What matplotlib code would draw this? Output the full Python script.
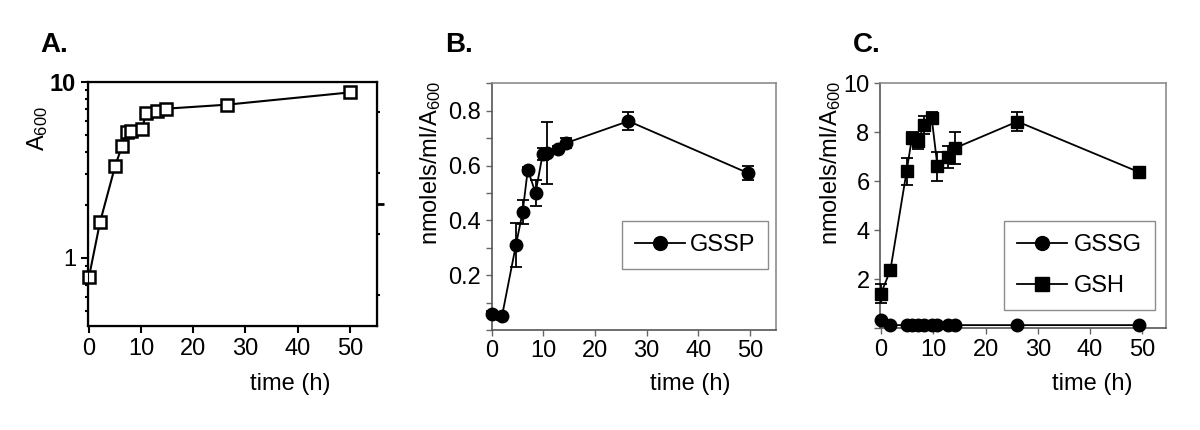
import numpy as np
import matplotlib.pyplot as plt
from matplotlib.lines import Line2D
from matplotlib.ticker import MultipleLocator, FixedLocator, NullFormatter

plt.rcParams['font.family'] = ['Liberation Sans', 'DejaVu Sans']
plt.rcParams['mathtext.fontset'] = 'custom'
plt.rcParams['mathtext.rm'] = 'Liberation Sans'
plt.rcParams['mathtext.it'] = 'Liberation Sans'

# Panel A: growth curve
timeA = [0, 2.1, 5.0, 6.3, 7.2, 8.0, 10.1, 11.0, 13.0, 14.7, 26.4, 50.1]
a600 = [0.78, 1.59, 3.32, 4.30, 5.23, 5.28, 5.39, 6.65, 6.87, 7.05, 7.43, 8.73]

# Panel B: GSSP
timeB = [0, 2.0, 4.7, 6.0, 7.0, 8.5, 9.9, 10.7, 12.8, 14.4, 26.5, 49.7]
gssp = [0.06, 0.05, 0.31, 0.43, 0.585, 0.50, 0.643, 0.646, 0.661, 0.682, 0.762, 0.572]
gssp_err = [0.01, 0.012, 0.08, 0.045, 0.01, 0.048, 0.022, 0.113, 0.01, 0.018, 0.033, 0.026]

# Panel C: GSSG and GSH
timeC = [0, 1.8, 4.9, 5.9, 7.1, 8.2, 9.7, 10.8, 12.8, 14.2, 26.1, 49.4]
gssg = [0.33, 0.13, 0.13, 0.13, 0.13, 0.13, 0.13, 0.13, 0.13, 0.13, 0.13, 0.13]
gssg_err = [0.05, 0.02, 0.02, 0.02, 0.02, 0.02, 0.02, 0.02, 0.02, 0.02, 0.02, 0.02]
gsh = [1.42, 2.38, 6.41, 7.76, 7.63, 8.30, 8.58, 6.61, 6.99, 7.36, 8.44, 6.37]
gsh_err = [0.38, 0.15, 0.55, 0.25, 0.3, 0.35, 0.25, 0.6, 0.45, 0.65, 0.4, 0.15]

xticks = [0, 10, 20, 30, 40, 50]
ylabel = 'nmolels/ml/A$_{600}$'

fig = plt.figure(figsize=(12, 4.3), dpi=100)
fs = 17

# ---------- A ----------
axA = fig.add_axes([0.0733, 0.2419, 0.2408, 0.5674])
axA.plot(timeA, a600, '-s', color='black', lw=1.5, ms=8.5, mfc='white', mec='black', mew=1.8,
         clip_on=False, zorder=3)
axA.set_yscale('log')
axA.set_ylim(0.41, 10)
axA.set_xlim(-0.2, 55.2)
axA.set_xticks(xticks)
axA.set_yticks([1, 10])
axA.set_yticklabels(['1', '10'])
axA.get_yticklabels()[1].set_fontweight('bold')
axA.tick_params(axis='both', labelsize=fs, direction='out', width=1.5, length=5)
axA.tick_params(axis='y', which='minor', length=2, width=1.5)
axA.yaxis.set_minor_formatter(NullFormatter())
for s in axA.spines.values():
    s.set_linewidth(1.6)
axA.set_ylabel('A$_{600}$', fontsize=fs)
axA.yaxis.set_label_coords(-0.13, 0.81)
axA.set_xlabel('time (h)', fontsize=fs)
axA.xaxis.set_label_coords(0.70, -0.193)

twin = axA.twinx()
twin.set_ylim(0, 1)
twin.yaxis.set_major_locator(FixedLocator([0.5]))
twin.yaxis.set_minor_locator(FixedLocator([0.125, 0.375, 0.625, 0.875]))
twin.tick_params(axis='y', which='major', length=5, width=2, labelright=False)
twin.tick_params(axis='y', which='minor', length=2, width=1.5)
twin.yaxis.set_minor_formatter(NullFormatter())

fig.text(40 / 1200, 1 - 45 / 430, 'A.', fontsize=20, fontweight='bold', va='center')


def style_gray(ax):
    for k in ['top', 'right']:
        ax.spines[k].set_color('#8c8c8c')
        ax.spines[k].set_linewidth(1.2)
    for k in ['left', 'bottom']:
        ax.spines[k].set_color('#555555')
        ax.spines[k].set_linewidth(1.2)
    ax.tick_params(axis='both', which='both', direction='out', color='#666666', width=1, length=4,
                   labelsize=fs)


def legend_handle(marker, label):
    return Line2D([], [], color='black', lw=1.3, marker=marker, ms=10, label=label)


# ---------- B ----------
axB = fig.add_axes([0.4097, 0.2326, 0.2367, 0.5737])
axB.errorbar(timeB, gssp, yerr=gssp_err, fmt='-o', color='black', lw=1.3, ms=9,
             elinewidth=1.3, capsize=4, capthick=1.3, clip_on=False, zorder=3)
axB.set_xlim(0, 55)
axB.set_ylim(0, 0.9)
axB.set_xticks(xticks)
axB.set_yticks([0.2, 0.4, 0.6, 0.8])
axB.yaxis.set_minor_locator(MultipleLocator(0.1))
style_gray(axB)
axB.set_ylabel(ylabel, fontsize=fs)
axB.yaxis.set_label_coords(-0.171, 0.677)
axB.set_xlabel('time (h)', fontsize=fs)
axB.xaxis.set_label_coords(0.698, -0.174)
legB = axB.legend(handles=[legend_handle('o', 'GSSP')], loc='upper right',
                  bbox_to_anchor=(0.973, 0.442), borderaxespad=0, fontsize=fs, fancybox=False,
                  framealpha=1, handlelength=2.1, handletextpad=0.2, borderpad=0.55)
legB.get_frame().set_edgecolor('#8c8c8c')

fig.text(445 / 1200, 1 - 45 / 430, 'B.', fontsize=20, fontweight='bold', va='center')

# ---------- C ----------
axC = fig.add_axes([0.7333, 0.2365, 0.2383, 0.5698])
axC.errorbar(timeC, gssg, yerr=gssg_err, fmt='-o', color='black', lw=1.3, ms=9,
             elinewidth=1.3, capsize=4, capthick=1.3, clip_on=False, zorder=3)
axC.errorbar(timeC, gsh, yerr=gsh_err, fmt='-s', color='black', lw=1.3, ms=9,
             elinewidth=1.3, capsize=4, capthick=1.3, clip_on=False, zorder=3)
axC.set_xlim(-0.2, 54.5)
axC.set_ylim(0, 10)
axC.set_xticks(xticks)
axC.set_yticks([2, 4, 6, 8, 10])
axC.yaxis.set_minor_locator(MultipleLocator(2))
style_gray(axC)
axC.set_ylabel(ylabel, fontsize=fs)
axC.yaxis.set_label_coords(-0.129, 0.675)
axC.set_xlabel('time (h)', fontsize=fs)
axC.xaxis.set_label_coords(0.741, -0.182)
legC = axC.legend(handles=[legend_handle('o', 'GSSG'), legend_handle('s', 'GSH')],
                  loc='upper right', bbox_to_anchor=(0.962, 0.438), borderaxespad=0,
                  fontsize=fs, fancybox=False, framealpha=1, handlelength=2.1,
                  handletextpad=0.3, borderpad=0.55, labelspacing=0.8)
legC.get_frame().set_edgecolor('#8c8c8c')

fig.text(853 / 1200, 1 - 45 / 430, 'C.', fontsize=20, fontweight='bold', va='center')

fig.savefig('out.png', dpi=100)
